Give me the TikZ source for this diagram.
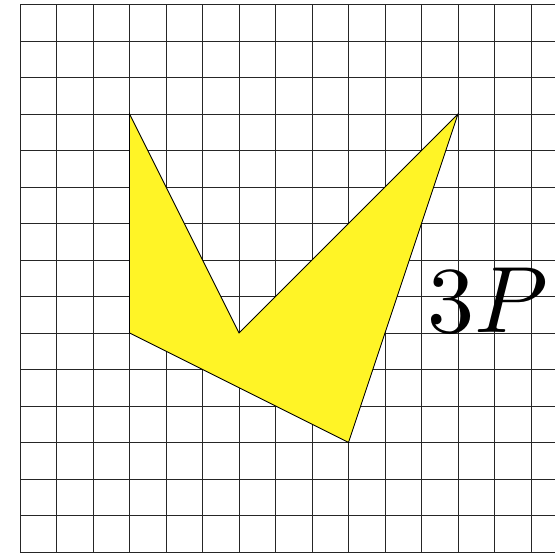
\documentclass[tikz,border=0pt]{standalone}
\begin{document}
\begin{tikzpicture}[x=1cm,y=1cm,
  gridline/.style={line width=0.45pt, black!85},
  yellowpoly/.style={fill=yellow!85!white, draw=black, line width=0.7pt, line join=miter}]
\useasboundingbox (-0.548,-0.055) rectangle (14.658,15.123);
\begin{scope}
\clip (-0.548,-0.055) rectangle (14.658,15.123);
\draw[gridline] (0,0) grid (15,15);
\end{scope}
\coordinate (A) at (3,12);
\coordinate (B) at (6,6);
\coordinate (C) at (12,12);
\coordinate (D) at (9,3);
\coordinate (E) at (3,6);
\filldraw[yellowpoly] (A) -- (B) -- (C) -- (D) -- (E) -- cycle;
\node[inner sep=0pt, anchor=base west, scale=7.35] (lbl) at (11.12,6) {$3P$};
\end{tikzpicture}
\end{document}
